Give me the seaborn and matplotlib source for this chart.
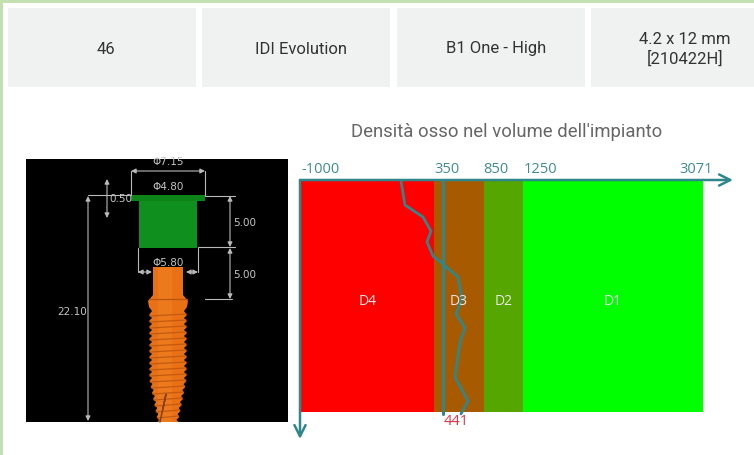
import matplotlib
matplotlib.use("Agg")
import matplotlib.pyplot as plt
import seaborn as sns
from matplotlib.patches import Rectangle, Polygon
from matplotlib.transforms import ScaledTranslation

# ==========================================
# DATA
# ==========================================
CARD_LABELS = ['46', 'IDI Evolution', 'B1 One - High', '4.2 x 12 mm\n[210422H]']
CHART_TITLE = "Densità osso nel volume dell'impianto"

BAND_NAMES = ['D4', 'D3', 'D2', 'D1']
BAND_EDGES = [-1000, 350, 850, 1250, 3071]
BAND_COLORS = ['#ff0000', '#a85a00', '#55a600', '#00ff00']
IMPLANT_LENGTH = 12

# density along the implant
PROFILE_DEPTH = [0, 1.25, 1.87, 2.6, 3.17, 3.9, 4.4, 5.0, 6.13, 6.9, 7.64, 8.36, 10.18, 11.43, 12.1]
PROFILE_HU = [13, 53, 235, 316, 276, 337, 458, 590, 630, 570, 661, 610, 559, 691, 620]
MEAN_HU = 441

TEAL = '#2f878c'
TICK_TEAL = '#3f8c90'
DIM_GREY = '#b9b9b9'
LABEL_FONT = ['Open Sans', 'DejaVu Sans']

sns.set_theme(style='white')
plt.rcParams['font.family'] = ['Roboto', 'DejaVu Sans']

fig = plt.figure(figsize=(7.54, 4.56), dpi=100)

# ==========================================
# PAGE: cards, title and the implant picture (pixel coords)
# ==========================================
page = fig.add_axes([0, 0, 1, 1], zorder=0)
page.set_xlim(0, 754)
page.set_ylim(456, 0)
page.axis('off')

page.add_patch(Rectangle((0, 0), 754, 4, color='#c3e0b0', lw=0))
page.add_patch(Rectangle((0, 0), 3, 456, color='#c3e0b0', lw=0))

for (x0, x1, cx), label in zip([(8, 196, 106), (202, 390, 301), (397, 585, 496), (591, 754, 685)], CARD_LABELS):
    page.add_patch(Rectangle((x0, 9), x1 - x0, 79, color='#f0f1f1', lw=0))
    page.text(cx, 49, label, ha='center', va='center', fontsize=12,
              color='#333333', linespacing=1.25)

page.text(507, 132, CHART_TITLE, ha='center', va='center', fontsize=13.3, color='#666666')

page.add_patch(Rectangle((26, 160), 262, 263, color='black', lw=0))

# healing cap
page.add_patch(Rectangle((139, 200), 58, 49, color='#0f8f1e', lw=0))
page.add_patch(Rectangle((131, 196), 74, 6, color='#0d8418', lw=0))

# implant body, threaded outline
left_edge = [(153, 268), (153, 296), (148, 302), (149, 308), (152, 312)]
right_edge = [(183, 268), (183, 296), (188, 302), (187, 308), (184, 312)]
for y in range(316, 424, 6):
    half = 19 if y < 380 else 19 - (y - 380) * 0.2
    dent = 16 if y < 380 else 16 - (y - 380) * 0.2
    left_edge += [(168 - half, y), (168 - dent, y + 3)]
    right_edge += [(168 + half, y), (168 + dent, y + 3)]
left_edge.append((158, 423))
right_edge.append((179, 423))
page.add_patch(Polygon(left_edge + right_edge[::-1], closed=True, color='#ea7016', lw=0))
page.add_patch(Rectangle((158, 268), 14, 155, color='#f58a2c', lw=0, alpha=0.35))
page.plot([149, 187], [300, 300], color='#b9540f', lw=0.9)
for y in range(316, 420, 6):
    half = 18 if y < 380 else 18 - (y - 380) * 0.2
    page.plot([168 - half, 168 + half], [y + 1, y - 1], color='#c25a10', lw=0.9)
page.plot([160, 166, 163], [423, 395, 410], color='#8a4008', lw=1.1)


def dim_line(x0, y0, x1, y1):
    page.plot([x0, x1], [y0, y1], color=DIM_GREY, lw=0.8)


def dim_arrow(x0, y0, x1, y1):
    page.annotate('', xy=(x1, y1), xytext=(x0, y0),
                  arrowprops=dict(arrowstyle='<|-|>', color=DIM_GREY, lw=0.8,
                                  shrinkA=0, shrinkB=0, mutation_scale=7))


dim_arrow(131, 172, 205, 172)
dim_line(131, 172, 131, 196)
dim_line(205, 172, 205, 196)
dim_line(88, 196, 131, 196)
dim_arrow(88, 197, 88, 422)
dim_arrow(107, 180, 107, 219)
dim_line(205, 197, 235, 197)
dim_line(198, 248, 235, 248)
dim_line(205, 300, 232, 300)
dim_arrow(230, 197, 230, 248)
dim_arrow(230, 249, 230, 300)
dim_line(138, 249, 138, 273)
dim_line(198, 249, 198, 273)
dim_arrow(152, 273, 138, 273)
dim_arrow(186, 273, 198, 273)

for x, y, label in [(168, 162, 'Φ7.15'), (168, 187, 'Φ4.80'), (121, 199, '0.50'),
                    (245, 223, '5.00'), (245, 275, '5.00'), (168, 263, 'Φ5.80'),
                    (72, 312, '22.10')]:
    page.text(x, y, label, ha='center', va='center', fontsize=7.5, color='#c4c4c4',
              family=['DejaVu Sans'], clip_on=True)

# ==========================================
# CHART: density bands, profile and mean
# ==========================================
W, H = 754, 456
ax = fig.add_axes([301 / W, 1 - 413 / H, 402 / W, 231 / H], zorder=1)
ax.patch.set_alpha(0)

mids = [(a + b) / 2 for a, b in zip(BAND_EDGES[:-1], BAND_EDGES[1:])]
sns.histplot(x=mids, weights=[IMPLANT_LENGTH] * 4, bins=BAND_EDGES, hue=BAND_NAMES,
             hue_order=BAND_NAMES, palette=BAND_COLORS, alpha=1, linewidth=0,
             legend=False, ax=ax)

sns.lineplot(x=PROFILE_HU, y=PROFILE_DEPTH, orient='y', sort=False, estimator=None,
             color=TEAL, lw=2, clip_on=False, ax=ax)
sns.lineplot(x=[MEAN_HU, MEAN_HU], y=[0, 12.1], orient='y', sort=False, estimator=None,
             color=TEAL, lw=2.2, clip_on=False, ax=ax)

ax.set_xlim(BAND_EDGES[0], BAND_EDGES[-1])
ax.set_ylim(IMPLANT_LENGTH, 0)
ax.set_xlabel('')
ax.set_ylabel('')
ax.set_yticks([])
ax.xaxis.tick_top()
ax.set_xticks(BAND_EDGES)
ax.set_xticklabels(BAND_EDGES, family=LABEL_FONT, fontsize=10.5, color=TICK_TEAL)
ax.tick_params(axis='x', length=0, pad=3.5)
# labels sit just right of their tick, the last one slightly left of centre
tick_labels = ax.get_xticklabels()
for tick in tick_labels[:-1]:
    tick.set_ha('left')
tick_labels[-1].set_transform(tick_labels[-1].get_transform()
                              + ScaledTranslation(-7 / 100, 0, fig.dpi_scale_trans))
sns.despine(ax=ax, left=True, bottom=True, top=True, right=True)

for name, mid in zip(BAND_NAMES, mids):
    ax.text(mid, 6.2, name, ha='center', va='center', color='#e8e8e8', fontsize=10,
            family=LABEL_FONT)

ax.annotate(str(MEAN_HU), xy=(MEAN_HU, IMPLANT_LENGTH), xytext=(456, 422),
            textcoords=page.transData, ha='center', va='center', color='#dc3545',
            fontsize=10.5, family=LABEL_FONT, annotation_clip=False)

# axis arrows
for end in [(733, 181), (300, 440)]:
    ax.annotate('', xy=end, xytext=(300, 181), xycoords=page.transData, textcoords=page.transData,
                annotation_clip=False,
                arrowprops=dict(arrowstyle='->', color=TEAL, lw=1.8, shrinkA=0, shrinkB=0,
                                mutation_scale=20))

fig.savefig('out.png', dpi=100)
